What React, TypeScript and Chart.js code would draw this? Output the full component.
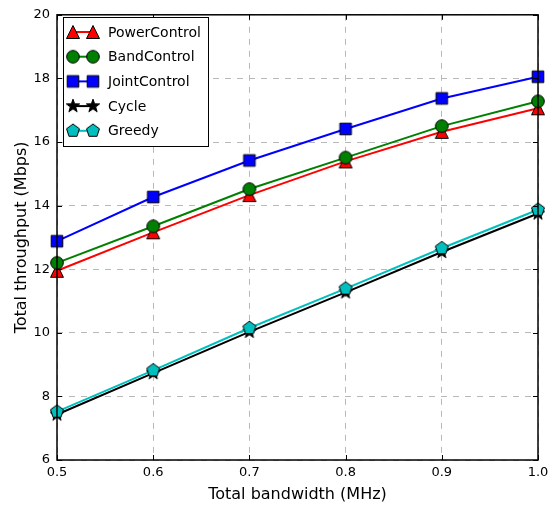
import React, { useEffect, useRef } from "react";
import { Chart, registerables } from "chart.js";

Chart.register(...registerables);

const bandwidth = [0.5, 0.6, 0.7, 0.8, 0.9, 1.0];
const powerControl = [11.95, 13.16, 14.33, 15.39, 16.32, 17.06];
const bandControl = [12.2, 13.35, 14.52, 15.51, 16.5, 17.28];
const jointControl = [12.88, 14.27, 15.42, 16.41, 17.37, 18.05];
const cycle = [7.43, 8.73, 10.03, 11.27, 12.54, 13.75];
const greedy = [7.52, 8.82, 10.15, 11.39, 12.66, 13.87];
const seriesNames = ["PowerControl", "BandControl", "JointControl", "Cycle", "Greedy"];
const xTicks = [0.5, 0.6, 0.7, 0.8, 0.9, 1.0];
const yTicks = [6, 8, 10, 12, 14, 16, 18, 20];

type Shape = "triangle" | "circle" | "square" | "star" | "pentagon";

function polygon(ctx: CanvasRenderingContext2D, c: number, n: number, r: number, inner?: number) {
  ctx.beginPath();
  const steps = inner ? n * 2 : n;
  for (let i = 0; i < steps; i++) {
    const rr = inner && i % 2 === 1 ? inner : r;
    const a = -Math.PI / 2 + (i * 2 * Math.PI) / steps;
    const x = c + rr * Math.cos(a);
    const y = c + rr * Math.sin(a);
    if (i === 0) ctx.moveTo(x, y);
    else ctx.lineTo(x, y);
  }
  ctx.closePath();
}

function makeMarker(shape: Shape, fill: string): HTMLCanvasElement {
  const s = 18;
  const c = s / 2;
  const cv = document.createElement("canvas");
  cv.width = s;
  cv.height = s;
  const ctx = cv.getContext("2d")!;
  ctx.fillStyle = fill;
  ctx.strokeStyle = "#000";
  ctx.lineWidth = 1;
  ctx.lineJoin = "miter";
  if (shape === "triangle") {
    ctx.beginPath();
    ctx.moveTo(c, c - 6.5);
    ctx.lineTo(c + 6.5, c + 6.5);
    ctx.lineTo(c - 6.5, c + 6.5);
    ctx.closePath();
  } else if (shape === "circle") {
    ctx.beginPath();
    ctx.arc(c, c, 6.3, 0, Math.PI * 2);
  } else if (shape === "square") {
    ctx.beginPath();
    ctx.rect(c - 5.8, c - 5.8, 11.6, 11.6);
  } else if (shape === "star") {
    polygon(ctx, c, 5, 7, 2.8);
  } else {
    polygon(ctx, c, 5, 6.8);
  }
  ctx.fill();
  ctx.stroke();
  return cv;
}

export default function App() {
  const ref = useRef<HTMLCanvasElement>(null);
  useEffect(() => {
    const colors = ["#ff0000", "#008000", "#0000ff", "#000000", "#00bfbf"];
    const shapes: Shape[] = ["triangle", "circle", "square", "star", "pentagon"];
    const values = [powerControl, bandControl, jointControl, cycle, greedy];
    const markers = shapes.map((s, i) => makeMarker(s, colors[i]));

    const framePlugin = {
      id: "frameLegend",
      afterDraw(chart: any) {
        const { ctx, chartArea } = chart;
        const { left, right, top, bottom } = chartArea;
        const xs = chart.scales.x;
        const ys = chart.scales.y;
        ctx.save();
        ctx.strokeStyle = "#000";
        ctx.lineWidth = 1;
        ctx.setLineDash([]);
        ctx.beginPath();
        for (const v of xTicks) {
          const px = Math.round(xs.getPixelForValue(v)) + 0.5;
          ctx.moveTo(px, bottom);
          ctx.lineTo(px, bottom - 5);
          ctx.moveTo(px, top);
          ctx.lineTo(px, top + 5);
        }
        for (const v of yTicks) {
          const py = Math.round(ys.getPixelForValue(v)) + 0.5;
          ctx.moveTo(left, py);
          ctx.lineTo(left + 5, py);
          ctx.moveTo(right, py);
          ctx.lineTo(right - 5, py);
        }
        ctx.stroke();
        ctx.lineWidth = 1.5;
        ctx.strokeRect(left, top, right - left, bottom - top);

        // legend
        const bx = 63.5, by = 17.5, bw = 145, bh = 129;
        ctx.fillStyle = "#fff";
        ctx.fillRect(bx, by, bw, bh);
        ctx.lineWidth = 1;
        ctx.strokeStyle = "#000";
        ctx.strokeRect(bx, by, bw, bh);
        ctx.font = "14px 'DejaVu Sans'";
        ctx.textBaseline = "middle";
        ctx.textAlign = "left";
        for (let i = 0; i < seriesNames.length; i++) {
          const y = 32 + i * 24.7;
          ctx.strokeStyle = colors[i];
          ctx.lineWidth = 2;
          ctx.beginPath();
          ctx.moveTo(73, y);
          ctx.lineTo(93, y);
          ctx.stroke();
          const m = markers[i];
          ctx.drawImage(m, 73 - m.width / 2, y - m.height / 2);
          ctx.drawImage(m, 93 - m.width / 2, y - m.height / 2);
          ctx.fillStyle = "#000";
          ctx.fillText(seriesNames[i], 108, y + 1);
        }
        ctx.restore();
      },
    };

    const chart = new Chart(ref.current!, {
      type: "line",
      data: {
        datasets: seriesNames.map((name, i) => ({
          label: name,
          data: bandwidth.map((x, j) => ({ x, y: values[i][j] })),
          borderColor: colors[i],
          backgroundColor: colors[i],
          borderWidth: 2,
          pointStyle: markers[i] as any,
          pointRadius: 6,
          order: 10 - i,
          clip: false as any,
        })),
      },
      options: {
        animation: false,
        responsive: false,
        layout: { padding: { top: 8, right: 20, left: 0, bottom: 0 } },
        plugins: { legend: { display: false }, tooltip: { enabled: false } },
        scales: {
          x: {
            type: "linear",
            min: 0.5,
            max: 1.0,
            afterBuildTicks: (s: any) => {
              s.ticks = xTicks.map((v) => ({ value: v }));
            },
            afterFit: (s: any) => {
              s.height = 50;
            },
            ticks: {
              padding: 5,
              color: "#000",
              font: { size: 13, family: "'DejaVu Sans'" },
              callback: (v: any) => Number(v).toFixed(1),
              maxRotation: 0,
            },
            grid: { color: "#b8b8b8", lineWidth: 1, drawTicks: false },
            border: { display: false, dash: [6, 6] },
            title: {
              display: true,
              text: "Total bandwidth (MHz)",
              color: "#000",
              font: { size: 16, family: "'DejaVu Sans'" },
              padding: { top: 0, bottom: 6 },
            },
          },
          y: {
            type: "linear",
            min: 6,
            max: 20,
            afterBuildTicks: (s: any) => {
              s.ticks = yTicks.map((v) => ({ value: v }));
            },
            afterFit: (s: any) => {
              s.width = 57;
            },
            ticks: {
              padding: 7,
              color: "#000",
              font: { size: 13, family: "'DejaVu Sans'" },
            },
            grid: { color: "#b8b8b8", lineWidth: 1, drawTicks: false },
            border: { display: false, dash: [6, 6] },
            title: {
              display: true,
              text: "Total throughput (Mbps)",
              color: "#000",
              font: { size: 16, family: "'DejaVu Sans'" },
              padding: { top: 12, bottom: 12 },
            },
          },
        },
      },
      plugins: [framePlugin],
    });
    return () => chart.destroy();
  }, []);
  return (
    <div style={{ position: "absolute", left: 0, top: 0, width: 558, height: 510, background: "#fff" }}>
      <canvas ref={ref} width={558} height={510} style={{ display: "block" }} />
    </div>
  );
}
